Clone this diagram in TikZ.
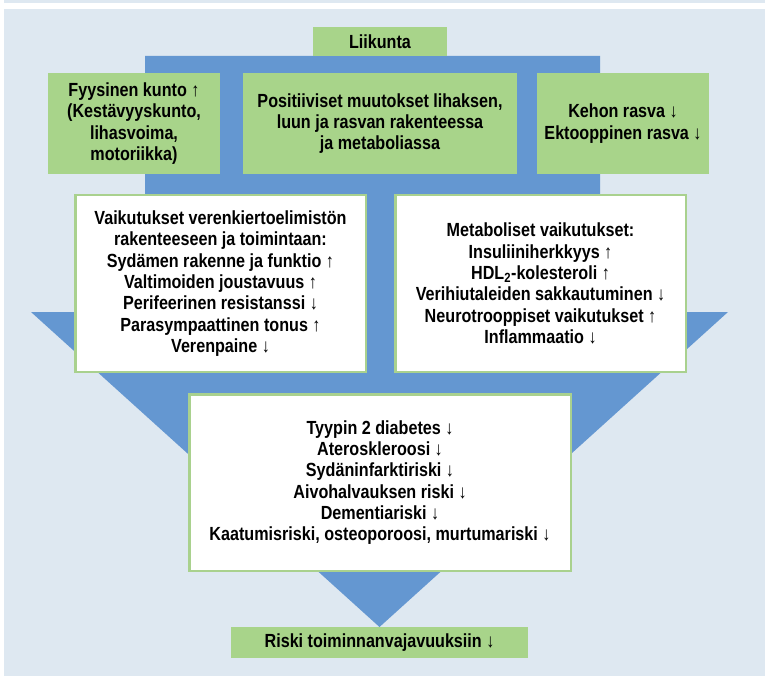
\documentclass[tikz,border=0pt]{standalone}
\usepackage{fontspec}
\setmainfont{Liberation Sans}[FakeStretch=0.85]
\definecolor{bgc}{HTML}{DEE8F1}
\definecolor{blu}{HTML}{6497D1}
\definecolor{grn}{HTML}{A8D48A}
\definecolor{grnb}{HTML}{A9D18E}
\begin{document}
\begin{tikzpicture}[x=1pt,y=-1pt,
  txt/.style={align=center, inner sep=0pt, font=\bfseries\fontsize{19}{21.3}\selectfont},
  gbox/.style={txt, fill=grn},
  wbox/.style={txt, fill=white, draw=grnb, line width=2.5pt}]
\useasboundingbox (0,0) rectangle (765,676);
\fill[white] (0,0) rectangle (765,676);
\fill[bgc] (4,0) rectangle (765,3);
\fill[bgc] (4,9) rectangle (765,676);
\fill[blu] (145,56) -- (600,56) -- (600,312) -- (728,312) -- (379.5,627) -- (31,312) -- (145,312) -- cycle;
\node[gbox, minimum width=134pt, minimum height=29pt] (liik) at (380,41.5) {Liikunta};
\node[gbox, minimum width=172pt, minimum height=101pt] (fk) at (134,123.5)
  {Fyysinen kunto ↑\\(Kestävyyskunto,\\lihasvoima,\\motoriikka)};
\node[gbox, minimum width=274pt, minimum height=101pt] (pos) at (380,123.5)
  {Positiiviset muutokset lihaksen,\\luun ja rasvan rakenteessa\\ja metaboliassa};
\node[gbox, minimum width=172pt, minimum height=101pt] (keho) at (623,123.5)
  {Kehon rasva ↓\\Ektooppinen rasva ↓};
\node[wbox, minimum width=290.5pt, minimum height=176.5pt] (ver) at (220.5,283.5)
  {Vaikutukset verenkiertoelimistön\\rakenteeseen ja toimintaan:\\Sydämen rakenne ja funktio ↑\\Valtimoiden joustavuus ↑\\Perifeerinen resistanssi ↓\\Parasympaattinen tonus ↑\\Verenpaine ↓};
\node[wbox, minimum width=290.5pt, minimum height=176.5pt] (met) at (540.5,283.5)
  {Metaboliset vaikutukset:\\Insuliiniherkkyys ↑\\HDL\textsubscript{2}-kolesteroli ↑\\Verihiutaleiden sakkautuminen ↓\\Neurotrooppiset vaikutukset ↑\\Inflammaatio ↓};
\node[wbox, minimum width=381.5pt, minimum height=176.5pt] (ris) at (380,482.5)
  {Tyypin 2 diabetes ↓\\Ateroskleroosi ↓\\Sydäninfarktiriski ↓\\Aivohalvauksen riski ↓\\Dementiariski ↓\\Kaatumisriski, osteoporoosi, murtumariski ↓};
\node[gbox, minimum width=297pt, minimum height=31pt] (rtv) at (379.5,642.5)
  {Riski toiminnanvajavuuksiin ↓};
\end{tikzpicture}
\end{document}
